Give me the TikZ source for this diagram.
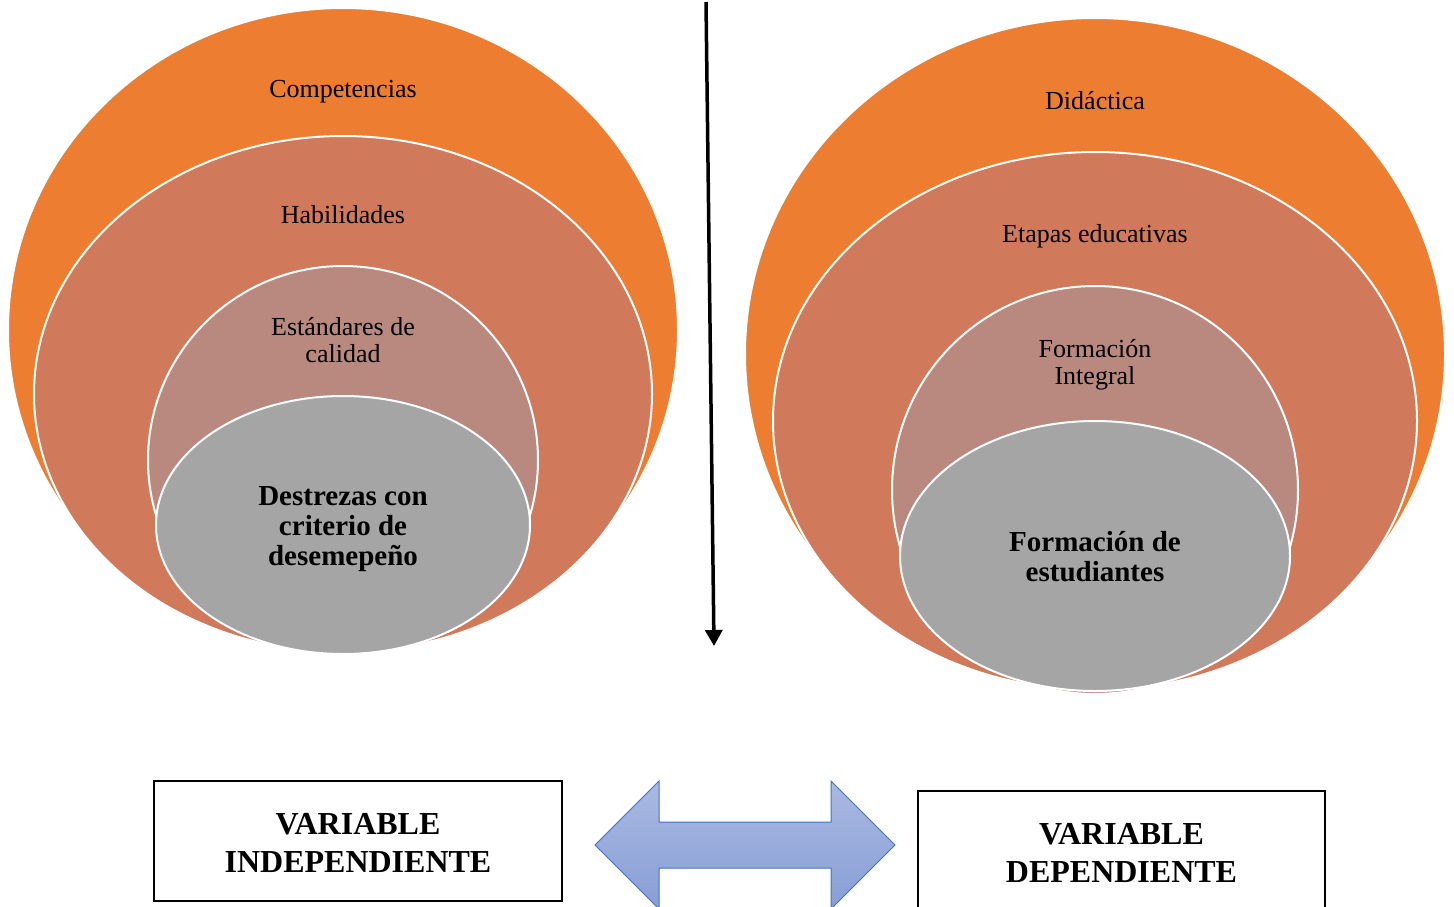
\documentclass[tikz,border=0pt]{standalone}
\usepackage{fontspec}
\setmainfont{Liberation Serif}
\usetikzlibrary{arrows.meta}
\definecolor{cOrange}{RGB}{237,125,49}
\definecolor{cSalmon}{RGB}{209,121,91}
\definecolor{cRose}{RGB}{185,137,128}
\definecolor{cGray}{RGB}{165,165,165}
\definecolor{cBlueTop}{RGB}{170,185,226}
\definecolor{cBlueBot}{RGB}{135,158,214}
\definecolor{cBlueLine}{RGB}{68,114,196}
\tikzset{
  ring/.style={draw=white, line width=2pt},
  lbl/.style={align=center, inner sep=0pt, font=\fontsize{26}{27}\selectfont},
  blbl/.style={align=center, inner sep=0pt, font=\fontsize{29}{30}\selectfont\bfseries},
  varbox/.style={draw=black, line width=2pt, fill=white, inner sep=0pt, align=center,
     font=\fontsize{32}{38}\selectfont\bfseries},
}
\begin{document}
\begin{tikzpicture}[x=1pt,y=-1pt]
\useasboundingbox (0,0) rectangle (1454,907);
% left nested ellipses
\path[ring, fill=cOrange] (343,330) ellipse [x radius=335, y radius=322];
\path[ring, fill=cSalmon] (343,394) ellipse [x radius=309, y radius=258];
\path[ring, fill=cRose]   (343,460) ellipse [x radius=195, y radius=194];
\path[ring, fill=cGray]   (343,525) ellipse [x radius=187, y radius=129];
\node[lbl] (l1) at (343,92) {Competencias};
\node[lbl] (l2) at (343,215) {Habilidades};
\node[lbl] (l3) at (343,340) {Estándares de\\calidad};
\node[blbl] (l4) at (343,529) {Destrezas con\\criterio de\\desemepeño};
% right nested ellipses
\path[ring, fill=cOrange] (1095,354) ellipse [x radius=350, y radius=336];
\path[ring, fill=cSalmon] (1095,421) ellipse [x radius=322, y radius=269];
\path[ring, fill=cRose]   (1095,490) ellipse [x radius=203, y radius=204];
\path[ring, fill=cGray]   (1095,556) ellipse [x radius=195, y radius=135];
\node[lbl] (r1) at (1095,101) {Didáctica};
\node[lbl] (r2) at (1095,236) {Etapas educativas};
\node[lbl] (r3) at (1095,365) {Formación\\Integral};
\node[blbl] (r4) at (1095,557) {Formación de\\estudiantes};
% central arrow
\coordinate (vtop) at (706,2);
\coordinate (vbot) at (714,646);
\draw[line width=3.5pt, -{Triangle[length=16pt,width=17pt]}] (vtop) -- (vbot);
% variable boxes
\node[varbox, minimum width=408pt, minimum height=120pt] (vi) at (358,841) {};
\node[align=center, inner sep=0pt, font=\fontsize{32}{38}\selectfont\bfseries] (vit) at (358,843) {VARIABLE\\INDEPENDIENTE};
\node[varbox, minimum width=407pt, minimum height=130pt, anchor=north] (vd) at (1121.5,790) {};
\node[align=center, inner sep=0pt, font=\fontsize{32}{38}\selectfont\bfseries] (vdt) at (1121.5,853) {VARIABLE\\DEPENDIENTE};
% double block arrow
\path[draw=cBlueLine, line width=1pt, top color=cBlueTop, bottom color=cBlueBot]
  (595,845) -- (659,781) -- (659,822) -- (831,822) -- (831,781) -- (895,845)
  -- (831,909) -- (831,868) -- (659,868) -- (659,909) -- cycle;
\end{tikzpicture}
\end{document}
